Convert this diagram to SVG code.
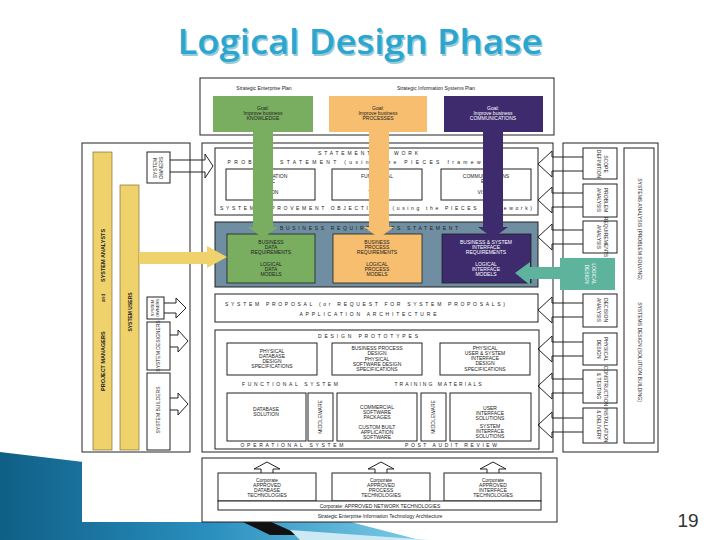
<svg xmlns="http://www.w3.org/2000/svg" width="720" height="540" viewBox="0 0 720 540">
<defs>
<style>
.t{font-family:"Liberation Sans",Arial,sans-serif;font-size:5px;fill:#222;text-anchor:middle}
.tw{font-family:"Liberation Sans",Arial,sans-serif;font-size:5px;fill:#fff;text-anchor:middle}
.b{fill:#fff;stroke:#222;stroke-width:1}
.oa{fill:none;stroke:#222;stroke-width:1}
.yl{fill:#efd26c;stroke:#6b5d2a;stroke-width:0.6}
</style>
<linearGradient id="wave" x1="0" y1="0" x2="1" y2="0">
<stop offset="0" stop-color="#0f5f86"/><stop offset="0.5" stop-color="#2a8fbf"/><stop offset="1" stop-color="#7ccbe6"/>
</linearGradient>
</defs>
<rect width="720" height="540" fill="#fff"/>
<g id="decor">
<polygon points="0,452 150,470 420,540 0,540" fill="url(#wave)"/>
<polygon points="130,468 160,472 300,535 270,535" fill="#111"/>
<polygon points="290,530 430,540 300,540" fill="#cde9f3"/>
</g>
<rect x="82" y="76" width="578" height="446" fill="#fff"/>
<g id="title">
<text x="361.5" y="55.5" font-family="'Open Sans','DejaVu Sans',sans-serif" font-weight="600" font-size="34" fill="#9cc9d8" text-anchor="middle" textLength="365" lengthAdjust="spacingAndGlyphs">Logical Design Phase</text>
<text x="360" y="54" font-family="'Open Sans','DejaVu Sans',sans-serif" font-weight="600" font-size="34" fill="#2aa6cf" text-anchor="middle" textLength="365" lengthAdjust="spacingAndGlyphs">Logical Design Phase</text>
</g>
<g id="plan">
<rect class="b" x="200" y="78" width="354" height="57"/>
<text class="t" x="264" y="90">Strategic Enterprise Plan</text>
<text class="t" x="436" y="90">Strategic Information Systems Plan</text>
</g>
<g id="frames">
<rect class="b" x="82" y="143" width="108" height="309"/>
<rect class="b" x="202" y="143" width="351" height="309"/>
<rect class="b" x="563" y="143" width="95" height="309"/>
</g>
<g id="sow">
<rect class="b" x="215" y="148" width="323" height="67"/>
<text class="t" x="368" y="155" textLength="100" lengthAdjust="spacing">STATEMENT OF WORK</text>
<text class="t" x="365" y="164" textLength="275" lengthAdjust="spacing">PROBLEM STATEMENT (using the PIECES framework)</text>
<rect class="b" x="226" y="169" width="89" height="31"/>
<rect class="b" x="332" y="169" width="90" height="31"/>
<rect class="b" x="441" y="169" width="90" height="31"/>
<text class="t" x="270" y="178">INFORMATION</text><text class="t" x="270" y="183">ETC</text><text class="t" x="270" y="194">VISION</text>
<text class="t" x="377" y="178">FUNCTIONAL</text><text class="t" x="377" y="183">ETC</text><text class="t" x="377" y="194">VISION</text>
<text class="t" x="486" y="178">COMMUNICATIONS</text><text class="t" x="486" y="183">ETC</text><text class="t" x="486" y="194">VISION</text>
<text class="t" x="376" y="210" textLength="312" lengthAdjust="spacing">SYSTEM IMPROVEMENT OBJECTIVES (using the PIECES framework)</text>
</g>
<g id="brs">
<rect x="215" y="222" width="323" height="65" fill="#6f8ea1" stroke="#222" stroke-width="1"/>
<text class="t" x="369" y="230" textLength="178" lengthAdjust="spacing">BUSINESS REQUIREMENTS STATEMENT</text>
<rect x="227" y="234" width="88" height="49" fill="#79ad60" stroke="#222" stroke-width="0.8"/>
<rect x="333" y="234" width="89" height="49" fill="#f6be6e" stroke="#222" stroke-width="0.8"/>
<rect x="442" y="234" width="89" height="49" fill="#3d2b6e" stroke="#222" stroke-width="0.8"/>
<text class="t" x="271" y="244">BUSINESS</text><text class="t" x="271" y="249">DATA</text><text class="t" x="271" y="254">REQUIREMENTS</text>
<text class="t" x="271" y="266">LOGICAL</text><text class="t" x="271" y="271">DATA</text><text class="t" x="271" y="276">MODELS</text>
<text class="t" x="377" y="244">BUSINESS</text><text class="t" x="377" y="249">PROCESS</text><text class="t" x="377" y="254">REQUIREMENTS</text>
<text class="t" x="377" y="266">LOGICAL</text><text class="t" x="377" y="271">PROCESS</text><text class="t" x="377" y="276">MODELS</text>
<text class="tw" x="486" y="244">BUSINESS &amp; SYSTEM</text><text class="tw" x="486" y="249">INTERFACE</text><text class="tw" x="486" y="254">REQUIREMENTS</text>
<text class="tw" x="486" y="266">LOGICAL</text><text class="tw" x="486" y="271">INTERFACE</text><text class="tw" x="486" y="276">MODELS</text>
</g>
<g id="proposal">
<rect class="b" x="215" y="294" width="323" height="28"/>
<text class="t" x="365" y="306" textLength="280" lengthAdjust="spacing">SYSTEM PROPOSAL (or REQUEST FOR SYSTEM PROPOSALS)</text>
<text class="t" x="368" y="316" textLength="137" lengthAdjust="spacing">APPLICATION ARCHITECTURE</text>
</g>
<g id="design">
<rect class="b" x="215" y="330" width="324" height="119"/>
<text class="t" x="368" y="338" textLength="100" lengthAdjust="spacing">DESIGN PROTOTYPES</text>
<rect class="b" x="227" y="343" width="90" height="32"/>
<rect class="b" x="332" y="343" width="90" height="32"/>
<rect class="b" x="440" y="343" width="90" height="32"/>
<text class="t" x="272" y="353">PHYSICAL</text><text class="t" x="272" y="358">DATABASE</text><text class="t" x="272" y="363">DESIGN</text><text class="t" x="272" y="368">SPECIFICATIONS</text>
<text class="t" x="377" y="350">BUSINESS PROCESS</text><text class="t" x="377" y="355">DESIGN</text><text class="t" x="377" y="361">PHYSICAL</text><text class="t" x="377" y="366">SOFTWARE DESIGN</text><text class="t" x="377" y="371">SPECIFICATIONS</text>
<text class="t" x="485" y="350">PHYSICAL</text><text class="t" x="485" y="355">USER &amp; SYSTEM</text><text class="t" x="485" y="360">INTERFACE</text><text class="t" x="485" y="365">DESIGN</text><text class="t" x="485" y="370.5">SPECIFICATIONS</text>
<text class="t" x="290" y="386" textLength="96" lengthAdjust="spacing">FUNCTIONAL SYSTEM</text>
<text class="t" x="438" y="386" textLength="87" lengthAdjust="spacing">TRAINING MATERIALS</text>
<rect class="b" x="227" y="393" width="79" height="48"/>
<rect class="b" x="308" y="393" width="25" height="48"/>
<rect class="b" x="337" y="393" width="80" height="48"/>
<rect class="b" x="421" y="393" width="25" height="48"/>
<rect class="b" x="450" y="393" width="81" height="48"/>
<text class="t" x="266" y="411">DATABASE</text><text class="t" x="266" y="416">SOLUTION</text>
<text class="t" transform="translate(322,417) rotate(-90)">MIDDLEWARE</text>
<text class="t" transform="translate(435,417) rotate(-90)">MIDDLEWARE</text>
<text class="t" x="377" y="409">COMMERCIAL</text><text class="t" x="377" y="414">SOFTWARE</text><text class="t" x="377" y="419">PACKAGES</text>
<text class="t" x="377" y="429">CUSTOM BUILT</text><text class="t" x="377" y="434">APPLICATION</text><text class="t" x="377" y="439">SOFTWARE</text>
<text class="t" x="490" y="410">USER</text><text class="t" x="490" y="415">INTERFACE</text><text class="t" x="490" y="420">SOLUTIONS</text>
<text class="t" x="490" y="428">SYSTEM</text><text class="t" x="490" y="433">INTERFACE</text><text class="t" x="490" y="438">SOLUTIONS</text>
<text class="t" x="292" y="447" textLength="103" lengthAdjust="spacing">OPERATIONAL SYSTEM</text>
<text class="t" x="451" y="447" textLength="92" lengthAdjust="spacing">POST AUDIT REVIEW</text>
</g>
<g id="arch">
<rect class="b" x="202" y="458" width="355" height="64"/>
<rect class="b" x="218" y="473" width="98" height="28"/>
<rect class="b" x="332" y="473" width="98" height="28"/>
<rect class="b" x="444" y="473" width="97" height="28"/>
<rect class="b" x="218" y="501" width="323" height="9"/>
<text class="t" x="267" y="482">Corporate</text><text class="t" x="267" y="487">APPROVED</text><text class="t" x="267" y="492">DATABASE</text><text class="t" x="267" y="497">TECHNOLOGIES</text>
<text class="t" x="381" y="482">Corporate</text><text class="t" x="381" y="487">APPROVED</text><text class="t" x="381" y="492">PROCESS</text><text class="t" x="381" y="497">TECHNOLOGIES</text>
<text class="t" x="493" y="482">Corporate</text><text class="t" x="493" y="487">APPROVED</text><text class="t" x="493" y="492">INTERFACE</text><text class="t" x="493" y="497">TECHNOLOGIES</text>
<text class="t" x="380" y="508">Corporate: APPROVED NETWORK TECHNOLOGIES</text>
<text class="t" x="380" y="518">Strategic Enterprise Information Technology Architecture</text>
</g>
<g id="left">
<rect class="yl" x="93" y="152" width="19" height="298"/>
<rect class="yl" x="120" y="185" width="19" height="265"/>
<text class="t" transform="translate(104.5,391) rotate(-90)" style="text-anchor:start;font-weight:bold;font-size:5.5px">PROJECT MANAGERS</text>
<text class="t" transform="translate(104.5,298) rotate(-90)">and</text>
<text class="t" transform="translate(104.5,282) rotate(-90)" style="text-anchor:start;font-weight:bold;font-size:5.5px">SYSTEM ANALYSTS</text>
<text class="t" transform="translate(131.5,312) rotate(-90)" style="font-weight:bold">SYSTEM USERS</text>
<rect class="b" x="147" y="152" width="23" height="31"/>
<text class="t" transform="translate(157,168) rotate(-90)">SYSTEM</text><text class="t" transform="translate(163,168) rotate(-90)">OWNERS</text>
<rect class="b" x="147" y="297" width="17" height="22"/>
<text class="t" transform="translate(154,308) rotate(-90)" style="font-size:4px">SYSTEM</text><text class="t" transform="translate(159,308) rotate(-90)" style="font-size:4px">OWNERS</text>
<rect class="b" x="147" y="322" width="23" height="48"/>
<text class="t" transform="translate(160,346) rotate(-90)">SYSTEM DESIGNERS</text>
<rect class="b" x="147" y="373" width="23" height="77"/>
<text class="t" transform="translate(160,410) rotate(-90)">SYSTEM BUILDERS</text>
</g>
<g id="right">
<rect class="b" x="583" y="148" width="34" height="31"/>
<rect class="b" x="583" y="184" width="34" height="33"/>
<rect class="b" x="583" y="221" width="34" height="32"/>
<rect class="b" x="583" y="294" width="34" height="33"/>
<rect class="b" x="583" y="333" width="34" height="32"/>
<rect class="b" x="583" y="370" width="34" height="33"/>
<rect class="b" x="583" y="408" width="34" height="35"/>
<rect class="b" x="624" y="148" width="30" height="295"/>
<text class="t" transform="translate(604,164) rotate(90)">SCOPE</text><text class="t" transform="translate(597,164) rotate(90)">DEFINITION</text>
<text class="t" transform="translate(604,200) rotate(90)">PROBLEM</text><text class="t" transform="translate(597,200) rotate(90)">ANALYSIS</text>
<text class="t" transform="translate(604,237) rotate(90)">REQUIREMENTS</text><text class="t" transform="translate(597,237) rotate(90)">ANALYSIS</text>
<text class="t" transform="translate(604,310) rotate(90)">DECISION</text><text class="t" transform="translate(597,310) rotate(90)">ANALYSIS</text>
<text class="t" transform="translate(604,349) rotate(90)">PHYSICAL</text><text class="t" transform="translate(597,349) rotate(90)">DESIGN</text>
<text class="t" transform="translate(604,386) rotate(90)">CONSTRUCTION</text><text class="t" transform="translate(597,386) rotate(90)">&amp; TESTING</text>
<text class="t" transform="translate(604,425) rotate(90)">INSTALLATION</text><text class="t" transform="translate(597,425) rotate(90)">&amp; DELIVERY</text>
<text class="t" transform="translate(638,229) rotate(90)">SYSTEMS ANALYSIS (PROBLEM SOLVING)</text>
<text class="t" transform="translate(638,352) rotate(90)">SYSTEMS DESIGN (SOLUTION BUILDING)</text>
</g>
<g id="connectors">
<g id="goals">
<rect x="213" y="96" width="100" height="36" fill="#79ad60"/>
<rect x="329" y="96" width="98" height="36" fill="#f6be6e"/>
<rect x="444" y="96" width="99" height="36" fill="#3d2b6e"/>
<polygon points="253,132 273,132 273,227 278,227 263,238 248,227 253,227" fill="#79ad60"/>
<polygon points="369,132 389,132 389,227 394,227 379,238 364,227 369,227" fill="#f6be6e"/>
<polygon points="483,132 503,132 503,227 508,227 493,238 478,227 483,227" fill="#3d2b6e"/>
<text class="t" x="263" y="110">Goal:</text><text class="t" x="263" y="115">Improve business</text><text class="t" x="263" y="120">KNOWLEDGE</text>
<text class="t" x="378" y="110">Goal:</text><text class="t" x="378" y="115">Improve business</text><text class="t" x="378" y="120">PROCESSES</text>
<text class="tw" x="493" y="110">Goal:</text><text class="tw" x="493" y="115">Improve business</text><text class="tw" x="493" y="120">COMMUNICATIONS</text>
</g>
<polygon points="139,252 207,252 207,246 227,257 207,268 207,264 139,264" fill="#efd26c"/>
<polygon points="615,258 615,290 560,290 560,279 530,279 530,285 515,273 530,262 530,267 560,267 560,258" fill="#5db39c"/>
<text class="tw" transform="translate(592,274) rotate(90)">LOGICAL</text><text class="tw" transform="translate(585,274) rotate(90)">DESIGN</text>
<polyline class="oa" points="170,160 205,160 205,154 213,166 205,178 205,172 170,172"/>
<polyline class="oa" points="164,303 176,303 176,298 186,308 176,318 176,313 164,313"/>
<polyline class="oa" points="170,335 178,335 178,330 188,341 178,352 178,347 170,347"/>
<polyline class="oa" points="170,398 178,398 178,393 188,404 178,415 178,410 170,410"/>
<polyline class="oa" points="583,157 552,157 552,151 538,164 552,177 552,171 583,171"/>
<polyline class="oa" points="583,193 552,193 552,187 538,200 552,213 552,207 583,207"/>
<polyline class="oa" points="583,230 552,230 552,224 538,237 552,250 552,244 583,244"/>
<polyline class="oa" points="583,303 552,303 552,297 538,310 552,323 552,317 583,317"/>
<polyline class="oa" points="583,342 552,342 552,336 538,349 552,362 552,356 583,356"/>
<polyline class="oa" points="583,379 552,379 552,373 538,386 552,399 552,393 583,393"/>
<polyline class="oa" points="583,418 552,418 552,412 538,425 552,438 552,432 583,432"/>
<polyline class="oa" points="261,473 261,469 254,469 267,462 280,469 273,469 273,473"/>
<polyline class="oa" points="375,473 375,469 368,469 381,462 394,469 387,469 387,473"/>
<polyline class="oa" points="487,473 487,469 480,469 493,462 506,469 499,469 499,473"/>
</g>
<text x="688" y="527" font-family="'Liberation Sans Narrow','Liberation Sans',sans-serif" font-size="19" fill="#333" text-anchor="middle">19</text>
</svg>
